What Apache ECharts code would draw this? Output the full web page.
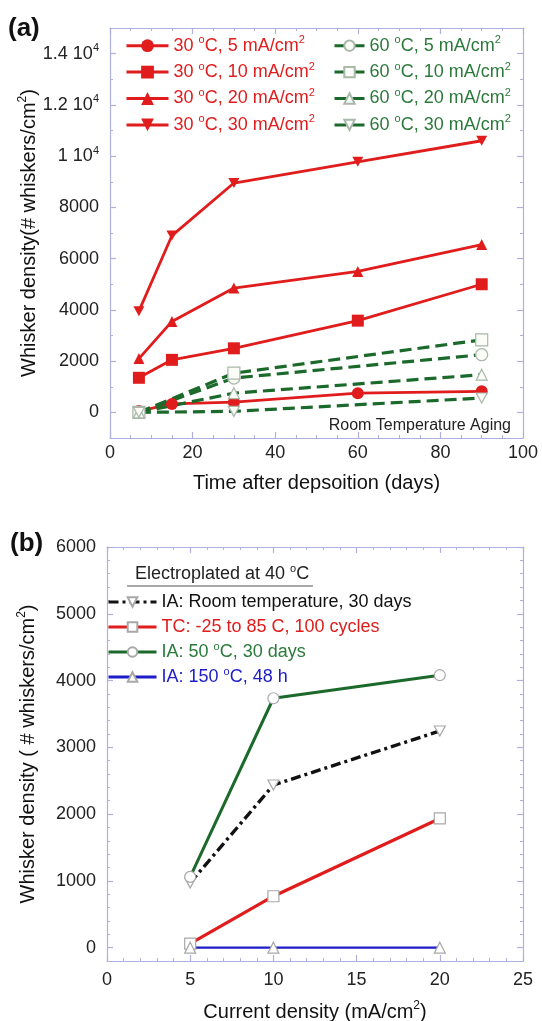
<!DOCTYPE html>
<html><head><meta charset="utf-8">
<script src="https://cdn.jsdelivr.net/npm/echarts@6/dist/echarts.min.js"></script>
<style>html,body{margin:0;padding:0;background:#fff}#c{width:542px;height:1021px}</style>
</head><body><div id="c"></div>
<script>
// ---------- Panel (a) data ----------
const daysRed = [7, 15, 30, 60, 90];
const red5  = [50, 330, 400, 750, 820];
const red10 = [1350, 2050, 2500, 3580, 5000];
const red20 = [2100, 3550, 4850, 5500, 6550];
const red30 = [3950, 6900, 8950, 9780, 10600];
const daysGreen = [7, 30, 90];
const green5  = [0, 1340, 2250];
const green10 = [0, 1530, 2830];
const green20 = [0, 750, 1470];
const green30 = [0, 40, 560];
const namesRed = ['30 °C, 5 mA/cm2', '30 °C, 10 mA/cm2', '30 °C, 20 mA/cm2', '30 °C, 30 mA/cm2'];
const namesGreen = ['60 °C, 5 mA/cm2', '60 °C, 10 mA/cm2', '60 °C, 20 mA/cm2', '60 °C, 30 mA/cm2'];
const yTicksA = [0, 2000, 4000, 6000, 8000, 10000, 12000, 14000];

// ---------- Panel (b) data ----------
const current = [5, 10, 20];
const iaRoom = [970, 2435, 3245];
const tc     = [60, 770, 1935];
const ia50   = [1060, 3735, 4080];
const ia150  = [0, 0, 0];
const namesB = ['IA: Room temperature, 30 days', 'TC: -25 to 85 C, 100 cycles', 'IA: 50 °C, 30 days', 'IA: 150 °C, 48 h'];
const yTicksB = [0, 1000, 2000, 3000, 4000, 5000, 6000];

const FONT = 'Liberation Sans, Arial, Helvetica, sans-serif';
const FRAME = '#b0b0de';
const RED = '#e01c1c';
const GREEN_LINE = '#1b6a2b';
const GREEN_TEXT = '#2b7a3b';
const BLUE = '#1c1cc8';
const DARK = '#111';
function supFmt(s) { return s.replace(/°/g, '{sup|o}').replace(/cm2/g, 'cm{sup|2}'); }
function supStyle(c, fs) { return { sup: { fontSize: fs || 11, lineHeight: 11, verticalAlign: 'top', color: c, fontFamily: FONT } }; }

const downTri = 'path://M0,0L2,0L1,1.8Z';

function frameX(grid, pos, min, max, interval, split, labels, margin) {
  return {
    type: 'value', gridIndex: grid, position: pos, min: min, max: max, interval: interval,
    axisLine: { show: true, onZero: false, lineStyle: { color: FRAME, width: 1.2 } },
    axisTick: { show: true, inside: true, length: 6, lineStyle: { color: FRAME, width: 1.2 } },
    minorTick: { show: true, splitNumber: split, length: 3, lineStyle: { color: FRAME, width: 1 } },
    axisLabel: { show: labels, margin: margin, fontSize: 18, color: '#222', fontFamily: FONT },
    splitLine: { show: false }, minorSplitLine: { show: false }
  };
}
function frameY(grid, pos, min, max, ticks, labels, fmt) {
  return {
    type: 'value', gridIndex: grid, position: pos, min: min, max: max,
    axisLine: { show: true, onZero: false, lineStyle: { color: FRAME, width: 1.2 } },
    axisTick: { show: true, inside: true, length: 6, customValues: ticks, lineStyle: { color: FRAME, width: 1.2 } },
    axisLabel: { show: labels, customValues: ticks, margin: 11, fontSize: 18, color: '#222', fontFamily: FONT,
      lineHeight: 22, formatter: fmt, rich: supStyle('#222') },
    splitLine: { show: false }
  };
}
function minorY(grid, pos, min, max, interval) {
  return {
    type: 'value', gridIndex: grid, position: pos, min: min, max: max, interval: interval,
    axisLine: { show: false, onZero: false }, axisLabel: { show: false }, splitLine: { show: false },
    axisTick: { show: true, inside: true, length: 3, lineStyle: { color: FRAME, width: 1 } }
  };
}

const fmtA = function (v) { if (v >= 10000) { return (v / 10000) + ' 10{sup|4}'; } return String(v); };
const fmtB = function (v) { return String(v); };
const nameStyle = { fontSize: 20, color: DARK, fontFamily: FONT, lineHeight: 24, rich: supStyle(DARK, 12) };

const xA0 = frameX(0, 'bottom', 0, 100, 20, 4, true, 6);
Object.assign(xA0, { name: 'Time after depsoition (days)', nameLocation: 'middle', nameGap: 33, nameMoveOverlap: false,
  nameTextStyle: nameStyle });
const xA1 = frameX(0, 'top', 0, 100, 20, 4, false, 6);
const xB0 = frameX(1, 'bottom', 0, 25, 5, 5, true, 10);
Object.assign(xB0, { name: 'Current density (mA/cm{sup|2})', nameLocation: 'middle', nameGap: 39, nameMoveOverlap: false,
  nameTextStyle: nameStyle });
const xB1 = frameX(1, 'top', 0, 25, 5, 5, false, 10);

const yA0 = frameY(0, 'left', -1000, 15000, yTicksA, true, fmtA);
Object.assign(yA0, { name: 'Whisker density(# whiskers/cm{sup|2})', nameLocation: 'middle', nameGap: 69, nameRotate: 90,
  nameMoveOverlap: false, nameTextStyle: nameStyle });
const yA1 = frameY(0, 'right', -1000, 15000, yTicksA, false, fmtA);
const yA2 = minorY(0, 'left', -1000, 15000, 1000);
const yA3 = minorY(0, 'right', -1000, 15000, 1000);

const yB0 = frameY(1, 'left', -200, 6000, yTicksB, true, fmtB);
Object.assign(yB0, { name: 'Whisker density ( # whiskers/cm{sup|2})', nameLocation: 'middle', nameGap: 67, nameRotate: 90,
  nameMoveOverlap: false, nameTextStyle: nameStyle });
const yB1 = frameY(1, 'right', -200, 6000, yTicksB, false, fmtB);
const yB2 = minorY(1, 'left', -200, 6000, 200);
const yB3 = minorY(1, 'right', -200, 6000, 200);

function pairs(xs, ys) { return xs.map(function (x, i) { return [x, ys[i]]; }); }

const redSym = ['circle', 'rect', 'triangle', downTri];
const redSize = [12, 12, 11, [11, 10]];
const redData = [red5, red10, red20, red30];
const greenData = [green5, green10, green20, green30];
const greenSym = ['circle', 'rect', 'triangle', downTri];
const greenSize = [12, 12, 11, [11, 10]];

const series = [];
redData.forEach(function (d, i) {
  series.push({
    name: namesRed[i], type: 'line', xAxisIndex: 0, yAxisIndex: 0,
    data: pairs(daysRed, d), symbol: redSym[i], symbolSize: redSize[i],
    lineStyle: { color: RED, width: 2.8 }, itemStyle: { color: RED, borderColor: RED, borderWidth: 0 },
    emphasis: { disabled: true }, animation: false
  });
});
greenData.forEach(function (d, i) {
  series.push({
    name: namesGreen[i], type: 'line', xAxisIndex: 0, yAxisIndex: 0,
    data: pairs(daysGreen, d), symbol: greenSym[i], symbolSize: greenSize[i],
    lineStyle: { color: GREEN_LINE, width: 3.2, type: [12, 6] },
    itemStyle: { color: '#fbfbf8', borderColor: '#a9b8a9', borderWidth: 1.2 },
    emphasis: { disabled: true }, animation: false
  });
});
const bData = [iaRoom, tc, ia50, ia150];
const bColor = [DARK, RED, GREEN_LINE, BLUE];
const bSym = [downTri, 'rect', 'circle', 'triangle'];
const bWidth = [3.4, 3.2, 3, 2.4];
const bType = [[10, 4, 3, 4], 'solid', 'solid', 'solid'];
bData.forEach(function (d, i) {
  series.push({
    name: namesB[i], type: 'line', xAxisIndex: 2, yAxisIndex: 4,
    data: pairs(current, d), symbol: bSym[i], symbolSize: i === 0 ? [11, 10] : 11,
    lineStyle: { color: bColor[i], width: bWidth[i], type: bType[i] },
    itemStyle: { color: '#fff', borderColor: '#a8a8a8', borderWidth: 1.2 },
    emphasis: { disabled: true }, animation: false
  });
});

const legendBase = {
  orient: 'vertical', padding: 0, itemGap: 4.4, itemHeight: 14, selectedMode: false,
  formatter: supFmt
};
const chart = echarts.init(document.getElementById('c'), null, { renderer: 'canvas' });
chart.setOption({
  animation: false,
  textStyle: { fontFamily: FONT },
  grid: [
    { left: 110, right: 19, top: 28, height: 410, outerBoundsMode: 'none', containLabel: false },
    { left: 107, right: 19, top: 547, height: 414, outerBoundsMode: 'none', containLabel: false }
  ],
  xAxis: [xA0, xA1, xB0, xB1],
  yAxis: [yA0, yA1, yA2, yA3, yB0, yB1, yB2, yB3],
  legend: [
    Object.assign({}, legendBase, {
      left: 125, top: 34.7, itemWidth: 42, itemHeight: 16, data: namesRed,
      lineStyle: { width: 3 },
      textStyle: { color: RED, fontSize: 18, lineHeight: 22, fontFamily: FONT, rich: supStyle(RED) }
    }),
    Object.assign({}, legendBase, {
      left: 333, top: 34.7, itemWidth: 30, itemHeight: 13, data: namesGreen,
      lineStyle: { width: 3 },
      textStyle: { color: GREEN_TEXT, fontSize: 18, lineHeight: 22, fontFamily: FONT, rich: supStyle(GREEN_TEXT) }
    }),
    Object.assign({}, legendBase, {
      left: 107, top: 591, itemWidth: 48, itemHeight: 12, itemGap: 3,
      lineStyle: { width: 3 },
      data: namesB.map(function (n, i) {
        const c = [DARK, RED, GREEN_TEXT, BLUE][i];
        return { name: n, textStyle: { color: c, rich: supStyle(c) } };
      }),
      textStyle: { fontSize: 18, lineHeight: 22, fontFamily: FONT }
    })
  ],
  graphic: [
    { type: 'text', x: 8, y: 29, style: { text: '(a)', fontSize: 26, fontWeight: 'bold', fontFamily: FONT, fill: '#111', verticalAlign: 'middle' } },
    { type: 'text', x: 10, y: 544, style: { text: '(b)', fontSize: 26, fontWeight: 'bold', fontFamily: FONT, fill: '#111', verticalAlign: 'middle' } },
    { type: 'text', x: 511, y: 426, style: { text: 'Room Temperature Aging', fontSize: 16, fontFamily: FONT, fill: '#222', align: 'right', verticalAlign: 'middle' } },
    { type: 'text', x: 135, y: 574, style: { text: 'Electroplated at 40 {sup|o}C', fontSize: 18, lineHeight: 22, fontFamily: FONT, fill: '#222', verticalAlign: 'middle',
        rich: { sup: { fontSize: 11, lineHeight: 11, verticalAlign: 'top', fill: '#222', fontFamily: FONT } } } },
    { type: 'line', shape: { x1: 127, y1: 586, x2: 313, y2: 586 }, style: { stroke: '#555', lineWidth: 1 } }
  ],
  series: series
});
</script></body></html>
